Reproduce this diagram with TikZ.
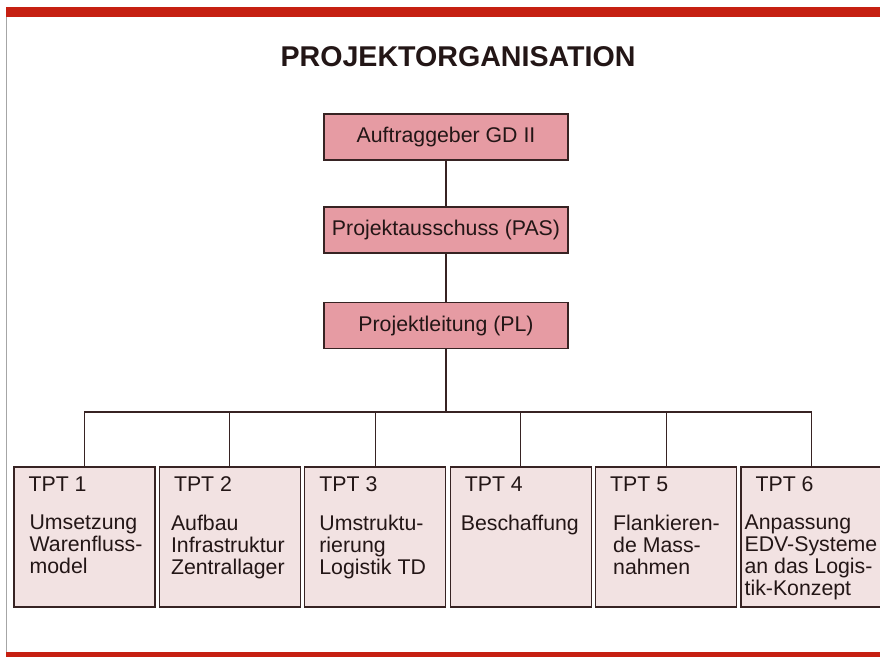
\documentclass[tikz,border=0pt]{standalone}
\usepackage{fontspec}
\setmainfont{Liberation Sans}
\usetikzlibrary{positioning, calc}
\definecolor{orgred}{RGB}{198,32,18}
\definecolor{orgpink}{RGB}{230,155,163}
\definecolor{orglight}{RGB}{242,226,226}
\definecolor{orgline}{RGB}{55,35,35}
\definecolor{orgtext}{RGB}{35,22,22}

\begin{document}
\begin{tikzpicture}[x=1pt, y=1pt,
    font=\fontsize{21.3}{22}\selectfont, text=orgtext,
    headbox/.style={draw=orgline, line width=1.2pt, fill=orgpink,
      minimum width=244, minimum height=46, inner sep=0pt},
    tptbox/.style={draw=orgline, line width=1.2pt, fill=orglight,
      minimum width=141, minimum height=140, inner sep=0pt},
    link/.style={draw=orgline, line width=1.1pt}]
  \useasboundingbox (0,0) rectangle (880,657);
  \fill[white] (0,0) rectangle (880,657);
  % frame
  \fill[orgred] (6,640) rectangle (880,650);
  \fill[orgred] (6,0) rectangle (880,5);
  \draw[gray!70, line width=0.8pt] (6,5) -- (6,640);
  % title
  \node[font=\fontsize{28.6}{30}\selectfont\bfseries, anchor=base] (title)
    at (458,590) {PROJEKTORGANISATION};
  % top of the hierarchy
  \node[headbox] (ag) at (446,520) {Auftraggeber GD II};
  \node[headbox] (pas) at (446,427) {Projektausschuss (PAS)};
  \node[headbox] (pl) at (446,331.5) {Projektleitung (PL)};
  \draw[link] (ag) -- (pas);
  \draw[link] (pas) -- (pl);
  % teilprojekte
  \begin{scope}
    \clip (0,0) rectangle (880,657);
    \foreach \i/\dx/\txt in {1/16/{Umsetzung\\Warenfluss-\\model},
        2/12/{Aufbau\\Infrastruktur\\Zentrallager},
        3/15/{Umstruktu-\\rierung\\Logistik TD},
        4/11/{Beschaffung},
        5/18/{Flankieren-\\de Mass-\\nahmen},
        6/4/{Anpassung\\EDV-Systeme\\an das Logis-\\tik-Konzept}} {
      \node[tptbox] (tpt\i) at ({84.5+145.4*(\i-1)},120) {};
      \node[anchor=base west, inner sep=0pt] (lab\i)
        at ($(tpt\i.north west)+(15,-25)$) {TPT \i};
      \node[anchor=north west, inner sep=0pt, align=left] (txt\i)
        at ($(tpt\i.north west)+(\dx,-48)$) {\txt};
    }
  \end{scope}
  \coordinate (bus) at (446,245);
  \draw[link] (pl) -- (bus);
  \draw[link] (tpt1.north) |- (bus -| tpt6.north) -- (tpt6.north);
  \foreach \i in {2,...,5}
    \draw[link] (tpt\i.north) -- (tpt\i.north |- bus);
\end{tikzpicture}
\end{document}
